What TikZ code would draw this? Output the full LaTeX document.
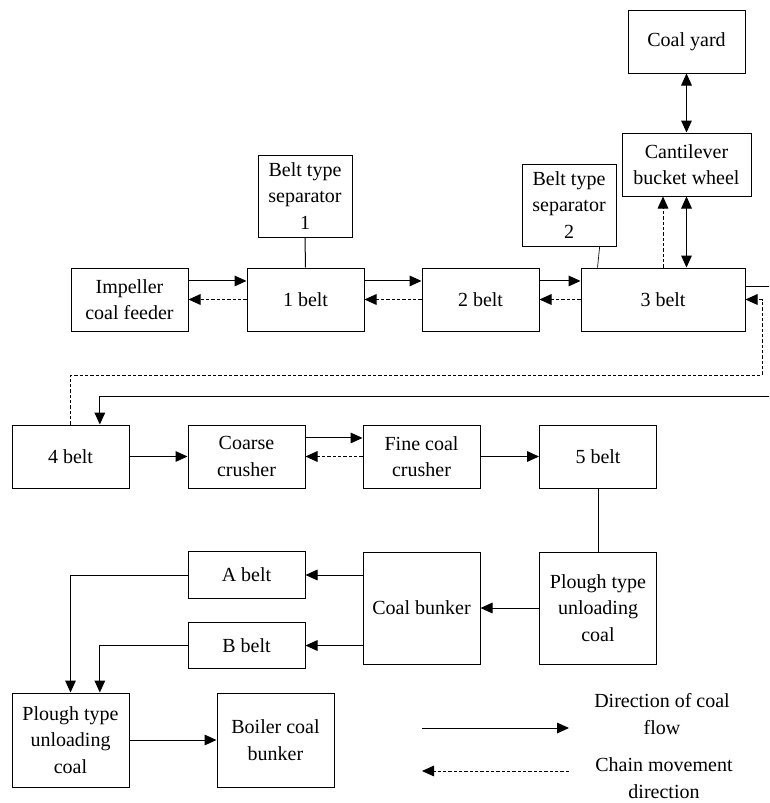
\documentclass[tikz,border=0pt]{standalone}
\usepackage{fontspec}
\setmainfont{Liberation Serif}
\usepackage{tikz}
\usetikzlibrary{arrows.meta}

\begin{document}
\begin{tikzpicture}[x=0.75pt,y=-0.75pt]
\tikzstyle{blk}=[rectangle,draw,line width=0.75pt,inner sep=1pt,align=center,minimum width=87.75pt,minimum height=47.25pt,font=\fontsize{15}{20}\selectfont]
\tikzstyle{lbl}=[align=center,font=\fontsize{15}{20}\selectfont]
\tikzstyle{flow}=[line width=0.75pt,-{Triangle[length=9pt,width=8pt]}]
\tikzstyle{chain}=[flow,dash pattern=on 2.5pt off 1.5pt]
\tikzstyle{both}=[line width=0.75pt,{Triangle[length=9pt,width=8pt]}-{Triangle[length=9pt,width=8pt]}]
\useasboundingbox (0,0) rectangle (769,803);
\clip (0,0) rectangle (769,803);
% first line of belts
\node[blk] (yard) at (686.5,41.5) {Coal yard};
\node[blk,minimum width=96.75pt] (cant) at (686.5,164.5) {Cantilever\\bucket wheel};
\node[blk,minimum width=70.5pt,minimum height=61.5pt] (sep1) at (305,196) {Belt type\\separator\\1};
\node[blk,minimum width=70.5pt,minimum height=61.5pt] (sep2) at (569,205) {Belt type\\separator\\2};
\node[blk] (feed) at (129.5,299.5) {Impeller\\coal feeder};
\node[blk] (b1) at (305.5,299.5) {1 belt};
\node[blk] (b2) at (480.5,299.5) {2 belt};
\node[blk,minimum width=123pt] (b3) at (663,299.5) {3 belt};
% second line
\node[blk] (b4) at (70.5,456.5) {4 belt};
\node[blk] (cc) at (246.5,456.5) {Coarse\\crusher};
\node[blk] (fc) at (421.5,456.5) {Fine coal\\crusher};
\node[blk] (b5) at (598,456.5) {5 belt};
% bunker part
\node[blk,minimum height=35pt] (ba) at (246.5,575) {A belt};
\node[blk,minimum height=35pt] (bb) at (246.5,645.5) {B belt};
\node[blk,minimum height=84pt] (bunk) at (421.5,608) {Coal bunker};
\node[blk,minimum height=84pt] (pr) at (598,608) {Plough type\\unloading\\coal};
\node[blk,minimum height=70.5pt] (pl) at (70.5,740) {Plough type\\unloading\\coal};
\node[blk,minimum height=70.5pt] (boil) at (275.5,740) {Boiler coal\\bunker};
% legend
\node[lbl] (lg1) at (662,714) {Direction of coal\\flow};
\node[lbl] (lg2) at (664,778) {Chain movement\\direction};
\coordinate (la1) at (422,728);
\coordinate (la2) at (569,728);
\coordinate (lb1) at (422,771);
\coordinate (lb2) at (569,771);
% turning points of the return loop
\coordinate (rt) at (775,396);
\coordinate (rd) at (762,375);
% coal flow (full lines)
\draw[both] (yard.south) -- (cant.north);
\draw[both] (cant.south) -- (cant.south |- b3.north);
\draw[line width=0.75pt] (sep1.south) -- (b1.north);
\draw[line width=0.5pt] ([xshift=23pt]sep2.south) -- ([xshift=12.75pt]b3.north west);
\draw[flow] ([yshift=13.9pt]feed.east) -- ([yshift=13.9pt]b1.west);
\draw[flow] ([yshift=13.9pt]b1.east) -- ([yshift=13.9pt]b2.west);
\draw[flow] ([yshift=13.9pt]b2.east) -- ([yshift=13.9pt]b3.west);
\draw[flow] ([yshift=9.4pt]b3.east) -| (rt) -| ([xshift=22pt]b4.north);
\draw[flow] (b4.east) -- (cc.west);
\draw[flow] ([yshift=13.9pt]cc.east) -- ([yshift=13.9pt]fc.west);
\draw[flow] (fc.east) -- (b5.west);
\draw[line width=0.75pt] (b5.south) -- (pr.north);
\draw[flow] (pr.west) -- (bunk.east);
\draw[flow] (bunk.west |- ba.east) -- (ba.east);
\draw[flow] (bunk.west |- bb.east) -- (bb.east);
\draw[flow] (ba.west) -| (pl.north);
\draw[flow] (bb.west) -| ([xshift=22pt]pl.north);
\draw[flow] (pl.east) -- (boil.west);
\draw[flow] (la1) -- (la2);
% chain movement (dashed)
\draw[chain] (b3.north) -- (b3.north |- cant.south);
\draw[chain] (b1.west) -- (feed.east);
\draw[chain] (b2.west) -- (b1.east);
\draw[chain] (b3.west) -- (b2.east);
\draw[chain] (b4.north) |- (rd) |- (b3.east);
\draw[chain] (fc.west) -- (cc.east);
\draw[chain] (lb2) -- (lb1);
\end{tikzpicture}
\end{document}
